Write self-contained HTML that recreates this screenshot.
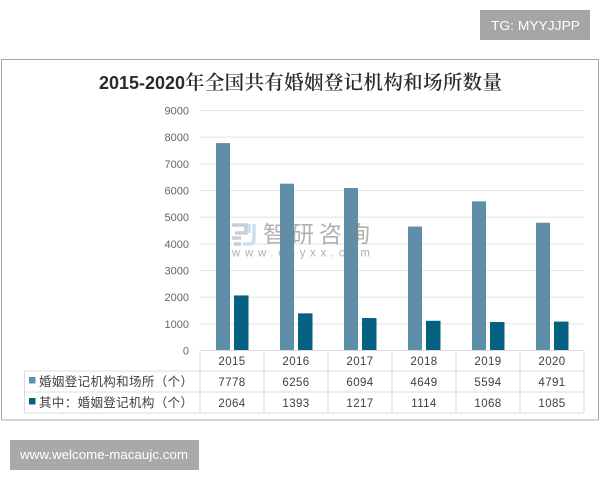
<!DOCTYPE html>
<html lang="zh">
<head>
<meta charset="utf-8">
<title>2015-2020年全国共有婚姻登记机构和场所数量</title>
<style>
html,body{margin:0;padding:0;background:#fff;}
body{width:600px;height:480px;overflow:hidden;position:relative;font-family:"Liberation Sans","Noto Sans CJK SC",sans-serif;}
svg{position:absolute;left:0;top:0;}
text{font-family:"Liberation Sans","Noto Sans CJK SC",sans-serif;}
</style>
</head>
<body>
<svg id="chart" width="600" height="480" viewBox="0 0 600 480">
  <rect x="480" y="10" width="110" height="30" fill="#a6a6a6"/>
  <text x="491" y="30" fill="#fff" font-size="13" textLength="89" lengthAdjust="spacingAndGlyphs">TG: MYYJJPP</text>
  <rect x="1.5" y="59.5" width="597" height="360.5" fill="#fff" stroke="#a8a8a8" stroke-width="1"/>
  <text y="89" fill="#2b2b2b"><tspan x="99" font-size="18" font-weight="700" textLength="86" lengthAdjust="spacingAndGlyphs" style="font-family:'Liberation Sans',sans-serif">2015-2020</tspan><tspan x="185" font-size="19.5" font-weight="600" textLength="317" style="font-family:'Noto Serif CJK SC','Liberation Serif',serif">年全国共有婚姻登记机构和场所数量</tspan></text>
  <g id="gridlines"></g>
  <g id="yticks"></g>
  <g id="bars"></g>
  <g id="watermark">
    <path d="M232 225 H246 V233 H235 M232 238 H241 M234 244 H241" fill="none" stroke="#bcc3d0" stroke-width="3.5" opacity="0.8"/>
    <path d="M249 224 V233 M254 224 V239 Q254 244 249 244 H243" fill="none" stroke="#c6dbea" stroke-width="3.5" opacity="0.85"/>
    <text x="263" y="242" fill="#808080" opacity="0.62" font-size="23" textLength="107">智研咨询</text>
    <text x="232" y="256.5" fill="#808080" opacity="0.62" font-size="11.5" textLength="138">www.chyxx.com</text>
  </g>
  <g id="table"></g>
  <rect x="10" y="440" width="189" height="30" fill="#a9a9a9"/>
  <text x="20" y="459" fill="#fff" font-size="13" textLength="168" lengthAdjust="spacingAndGlyphs">www.welcome-macaujc.com</text>
</svg>
<script>
const categories = ['2015', '2016', '2017', '2018', '2019', '2020'];
const seriesVenues = [7778, 6256, 6094, 4649, 5594, 4791];
const seriesAgencies = [2064, 1393, 1217, 1114, 1068, 1085];
const yTicks = [0, 1000, 2000, 3000, 4000, 5000, 6000, 7000, 8000, 9000];
const seriesNames = ['婚姻登记机构和场所（个）', '其中：婚姻登记机构（个）'];

const NS = 'http://www.w3.org/2000/svg';
const plotLeft = 200, plotRight = 584, plotTop = 110.5, plotBottom = 350.5, yMax = 9000;
const colors = ['#5f8fa8', '#04617f'];
const rowLines = [350.5, 371, 392, 413];
const tableLeft = 24.5;

function yScale(v) { return plotBottom - (v / yMax) * (plotBottom - plotTop); }
function bandWidth() { return (plotRight - plotLeft) / categories.length; }
function xBand(i) { return plotLeft + i * bandWidth(); }
function make(tag, attrs, parent) {
  const el = document.createElementNS(NS, tag);
  for (const k in attrs) el.setAttribute(k, attrs[k]);
  parent.appendChild(el);
  return el;
}

const gridG = document.getElementById('gridlines');
const tickG = document.getElementById('yticks');
yTicks.forEach(function (t) {
  if (t !== 0) {
    const line = make('line', { x1: plotLeft, x2: plotRight, y1: yScale(t), y2: yScale(t), stroke: '#e2e2e2', 'stroke-width': 1 }, gridG);
    
    
  }
  const label = make('text', { x: 189, y: yScale(t) + 4, 'font-size': 11, fill: '#666666', 'text-anchor': 'end' }, tickG);
  label.textContent = t;
  
  
});

const barG = document.getElementById('bars');
categories.forEach(function (c, i) {
  const center = xBand(i) + bandWidth() / 2;
  const a = make('rect', { x: center - 16, y: yScale(seriesVenues[i]), width: 14, height: plotBottom - yScale(seriesVenues[i]), fill: colors[0] }, barG);
  
  
  const b = make('rect', { x: center + 2, y: yScale(seriesAgencies[i]), width: 14.5, height: plotBottom - yScale(seriesAgencies[i]), fill: colors[1] }, barG);
  
  
});

const tableG = document.getElementById('table');
rowLines.forEach(function (y, r) {
  const line = make('line', { x1: r === 0 ? plotLeft : tableLeft, x2: plotRight, y1: y, y2: y, stroke: '#dcdcdc', 'stroke-width': 1 }, tableG);
  
  
});
const leftEdge = make('line', { x1: tableLeft, x2: tableLeft, y1: rowLines[1], y2: rowLines[3], stroke: '#dcdcdc', 'stroke-width': 1 }, tableG);


for (let i = 0; i <= categories.length; i++) {
  const line = make('line', { x1: xBand(i), x2: xBand(i), y1: rowLines[0], y2: rowLines[3], stroke: '#dcdcdc', 'stroke-width': 1 }, tableG);
  
  
}
function cell(text, i, y, name) {
  const t = make('text', { x: xBand(i) + bandWidth() / 2, y: y, 'font-size': 11.5, fill: '#404040', 'text-anchor': 'middle', 'letter-spacing': 0.4 }, tableG);
  t.textContent = text;
  
  
}
categories.forEach(function (c, i) {
  cell(c, i, 365, 'table-year');
  cell(seriesVenues[i], i, 386, 'table-value-venues');
  cell(seriesAgencies[i], i, 407, 'table-value-agencies');
});
seriesNames.forEach(function (name, r) {
  const y = rowLines[r + 1];
  const key = make('rect', { x: 29, y: y + 6, width: 6.5, height: 6.5, fill: colors[r] }, tableG);
  
  
  const label = make('text', { x: 39, y: y + 15, 'font-size': 12.5, fill: '#404040', textLength: 154 }, tableG);
  label.textContent = name;
  
  
});
</script>
</body>
</html>
